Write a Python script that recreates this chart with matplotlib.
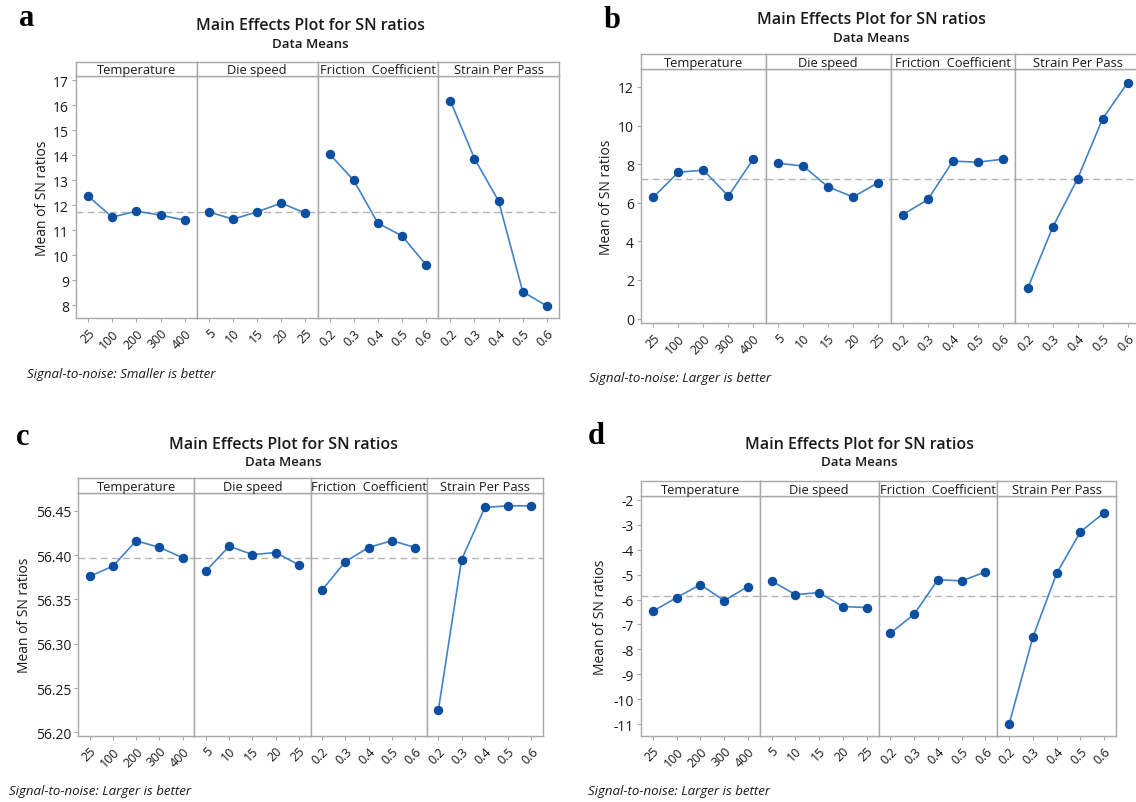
import numpy as np
import matplotlib
matplotlib.use("Agg")
import matplotlib.pyplot as plt

plt.rcParams['font.family'] = ['Open Sans', 'DejaVu Sans']
plt.rcParams['axes.unicode_minus'] = False

# factor names and their levels
factors = ['Temperature', 'Die speed', 'Friction  Coefficient', 'Strain Per Pass']
temp_levels = ['25', '100', '200', '300', '400']
speed_levels = ['5', '10', '15', '20', '25']
friction_levels = ['0.2', '0.3', '0.4', '0.5', '0.6']
strain_levels = ['0.2', '0.3', '0.4', '0.5', '0.6']
level_sets = [temp_levels, speed_levels, friction_levels, strain_levels]

# mean SN ratio per level (temperature, die speed, friction, strain)
sn_a = [[12.37, 11.53, 11.77, 11.61, 11.41],
        [11.74, 11.45, 11.74, 12.09, 11.69],
        [14.05, 13.00, 11.29, 10.78, 9.62],
        [16.18, 13.87, 12.17, 8.55, 7.98]]
sn_b = [[6.30, 7.58, 7.69, 6.35, 8.26],
        [8.05, 7.90, 6.82, 6.30, 7.04],
        [5.39, 6.17, 8.16, 8.10, 8.26],
        [1.57, 4.73, 7.25, 10.35, 12.21]]
sn_c = [[56.376, 56.3875, 56.416, 56.4088, 56.397],
        [56.382, 56.410, 56.4006, 56.4028, 56.389],
        [56.3606, 56.3927, 56.4085, 56.4163, 56.4085],
        [56.2254, 56.395, 56.4537, 56.4556, 56.4556]]
sn_d = [[-6.47, -5.92, -5.40, -6.04, -5.48],
        [-5.25, -5.80, -5.72, -6.28, -6.32],
        [-7.35, -6.59, -5.20, -5.25, -4.89],
        [-11.00, -7.51, -4.95, -3.28, -2.51]]

notes = ['Signal-to-noise: Smaller is better',
         'Signal-to-noise: Larger is better',
         'Signal-to-noise: Larger is better',
         'Signal-to-noise: Larger is better']

W, H = 1136, 803
fig = plt.figure(figsize=(W / 100, H / 100), dpi=100)


def fx(x):
    return x / W


def fy(y):
    return 1 - y / H


LINE = '#4283c6'
MARK = '#0c4e9f'
GRID = '#a8a8a8'
INK = '#1a1a1a'

# pixel layout of each panel
panels = [
    dict(letter='a', data=sn_a, note=notes[0], left=76, right=559, strip=63, top=77, bottom=319,
         ylim=(7.5, 17.17), yticks=np.arange(8, 18, 1), fmt='{:.0f}',
         letter_xy=(19, 18), title_x=310, title_y=26, ylab_x=43, note_xy=(27, 375)),
    dict(letter='b', data=sn_b, note=notes[1], left=641, right=1140, strip=55, top=70, bottom=324,
         ylim=(-0.23, 12.93), yticks=np.arange(0, 13, 2), fmt='{:.0f}',
         letter_xy=(604, 20), title_x=871, title_y=20, ylab_x=606, note_xy=(589, 379)),
    dict(letter='c', data=sn_c, note=notes[2], left=78, right=543, strip=479, top=494, bottom=737,
         ylim=(56.196, 56.470), yticks=np.arange(56.20, 56.46, 0.05), fmt='{:.2f}',
         letter_xy=(16, 438), title_x=283, title_y=445, ylab_x=25, note_xy=(9, 792)),
    dict(letter='d', data=sn_d, note=notes[3], left=641, right=1116, strip=482, top=497, bottom=737,
         ylim=(-11.48, -1.84), yticks=np.arange(-11, -1, 1), fmt='{:.0f}',
         letter_xy=(588, 437), title_x=859, title_y=445, ylab_x=601, note_xy=(588, 792)),
]

for p in panels:
    grand = np.mean(p['data'])
    width = (p['right'] - p['left']) / 4
    for k in range(4):
        x0 = p['left'] + k * width
        ax = fig.add_axes([fx(x0), fy(p['bottom']), width / W, (p['bottom'] - p['top']) / H])
        vals = p['data'][k]
        xs = np.arange(len(vals))
        ax.axhline(grand, color='#b4b4b4', ls=(0, (5, 3)), lw=1.0, zorder=1)
        ax.plot(xs, vals, color=LINE, lw=1.2, marker='o', ms=5.8,
                mfc=MARK, mec=MARK, zorder=3)
        ax.set_xlim(-0.5, 4.5)
        ax.set_ylim(*p['ylim'])
        ax.set_xticks(xs)
        ax.set_xticklabels(level_sets[k], rotation=45, ha='right', va='top',
                           rotation_mode='anchor', fontsize=9, color=INK)
        ax.tick_params(axis='x', length=3, color=GRID, pad=3)
        if k == 0:
            ax.set_yticks(p['yticks'])
            ax.set_yticklabels([p['fmt'].format(v) for v in p['yticks']], fontsize=10, color=INK)
            ax.tick_params(axis='y', length=3, color=GRID, pad=2)
        else:
            ax.set_yticks([])
        for s in ax.spines.values():
            s.set_color(GRID)
            s.set_linewidth(1.0)

        # facet strip
        sax = fig.add_axes([fx(x0), fy(p['top']), width / W, (p['top'] - p['strip']) / H])
        sax.set_xticks([])
        sax.set_yticks([])
        for s in sax.spines.values():
            s.set_color(GRID)
            s.set_linewidth(1.0)
        sax.text(0.5, 0.45, factors[k], ha='center', va='center', fontsize=9.3,
                 color=INK, transform=sax.transAxes)

    mid = (p['top'] + p['bottom']) / 2
    fig.text(fx(p['ylab_x']), fy(mid), 'Mean of SN ratios', rotation=90,
             ha='center', va='center', fontsize=10, color=INK)
    fig.text(fx(p['title_x']), fy(p['title_y']), 'Main Effects Plot for SN ratios',
             ha='center', va='center', fontsize=11.5, fontweight='semibold', color=INK)
    fig.text(fx(p['title_x']), fy(p['title_y'] + 18), 'Data Means',
             ha='center', va='center', fontsize=9.5, fontweight='semibold', color=INK)
    fig.text(fx(p['letter_xy'][0]), fy(p['letter_xy'][1]), p['letter'],
             ha='left', va='center', fontsize=22, fontweight='bold',
             family='Liberation Serif', color='black')
    fig.text(fx(p['note_xy'][0]), fy(p['note_xy'][1]), p['note'],
             ha='left', va='center', fontsize=9.5, style='italic', color=INK)

fig.savefig('out.png', dpi=100)
